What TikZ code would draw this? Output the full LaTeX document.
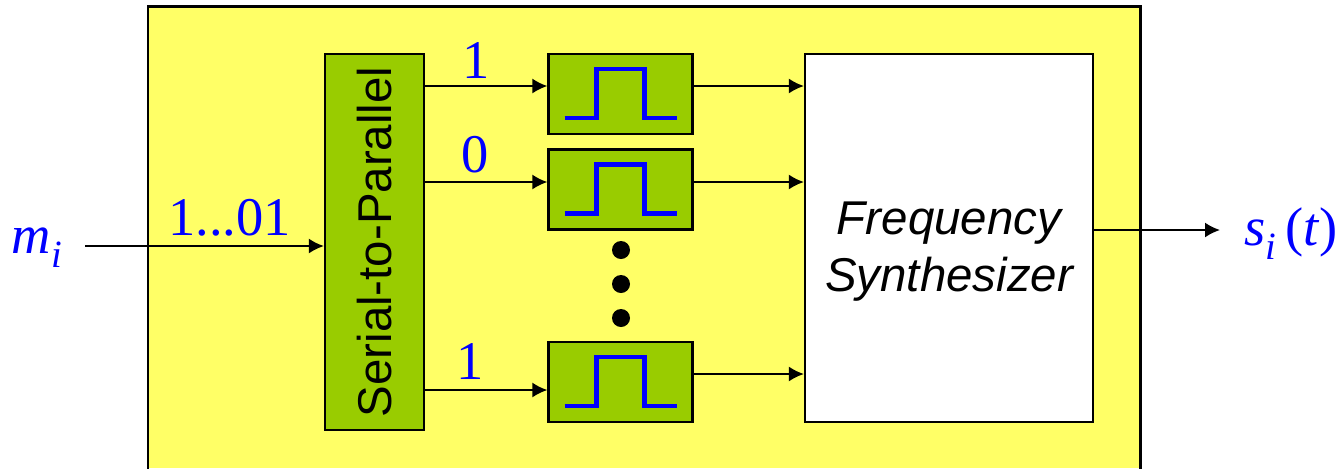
\documentclass[tikz,border=0pt]{standalone}
\usepackage{fontspec}
\setmainfont{Liberation Serif}
\setsansfont{Liberation Sans}
\usetikzlibrary{arrows.meta}

\definecolor{boxyellow}{HTML}{FFFF66}
\definecolor{blockgreen}{HTML}{99CC00}

\newcommand{\subidx}{\raisebox{-8pt}{\fontsize{22}{26}\selectfont\itshape i}}

\begin{document}
\begin{tikzpicture}[x=0.02cm, y=-0.02cm, >={Latex[length=0.3cm,width=0.3cm]},
        block/.style={draw, line width=1.3pt, fill=blockgreen, inner sep=0pt},
        pulsebox/.style={block, minimum width=2.88cm, minimum height=1.6cm},
        pulse/.style={blue, line width=2.8pt},
        wire/.style={->, line width=1.1pt},
        bit/.style={blue, inner sep=0pt, anchor=base, font=\fontsize{31}{37}\selectfont}]

        \useasboundingbox (0,0) rectangle (1343,468);

        % ==== OUTER BOX ====
        \fill[boxyellow] (148,6) rectangle (1140,468);
        \draw[line width=1.7pt] (148,475) -- (148,6) -- (1140,6) -- (1140,475);

        % ==== BLOCKS ====
        \node[block, minimum width=1.98cm, minimum height=7.52cm] (s2p) at (374.5,242) {};
        \node[rotate=90, inner sep=0pt, font=\sffamily\fontsize{27}{32}\selectfont] (s2ptxt) at (s2p.center) {Serial-to-Parallel};
        \node[pulsebox] (p1) at (620.5,94) {};
        \node[pulsebox] (p2) at (620.5,189.5) {};
        \node[pulsebox] (p3) at (620.5,382) {};
        \node[block, fill=white, minimum width=5.76cm, minimum height=7.36cm] (syn) at (949,238) {};
        \node[inner sep=0pt, align=center, font=\sffamily\itshape\fontsize{27}{32.4}\selectfont] (syntxt) at (949,252) {Frequency\\Synthesizer};

        % ==== PULSES ====
        \foreach \p in {p1,p2,p3}{
            \draw[pulse] ([shift={(-56,24)}]\p.center) -- ++(32,0) -- ++(0,-49) -- ++(48,0) -- ++(0,49) -- ++(32,0);
        }

        % ==== DOTS ====
        \foreach \y in {250,284,318}{
            \fill (621,\y) circle[radius=0.18cm];
        }

        % ==== ROW LEVELS ====
        \coordinate (r1) at (0,86);
        \coordinate (r2) at (0,182);
        \coordinate (r3) at (0,390);
        \coordinate (q3) at (0,374);
        \coordinate (in) at (85,246);
        \coordinate (out) at (1220,230);

        % ==== CONNECTIONS ====
        \draw[wire] (in) -- (in -| s2p.west);
        \draw[wire] (s2p.east |- r1) -- (p1.west |- r1);
        \draw[wire] (s2p.east |- r2) -- (p2.west |- r2);
        \draw[wire] (s2p.east |- r3) -- (p3.west |- r3);
        \draw[wire] (p1.east |- r1) -- (syn.west |- r1);
        \draw[wire] (p2.east |- r2) -- (syn.west |- r2);
        \draw[wire] (p3.east |- q3) -- (syn.west |- q3);
        \draw[wire] (syn.east |- out) -- (out);

        % ==== LABELS ====
        \node[bit] (mi) at (37,253) {\itshape m\subidx};
        \node[bit] (word) at (229.5,235) {1...01};
        \node[bit] (b1) at (476,78) {1};
        \node[bit] (b2) at (475,172) {0};
        \node[bit] (b3) at (470,379) {1};
        \node[bit] (si) at (1291,245) {\itshape s\subidx\,\textup{(}t\textup{)}};

\end{tikzpicture}
\end{document}
